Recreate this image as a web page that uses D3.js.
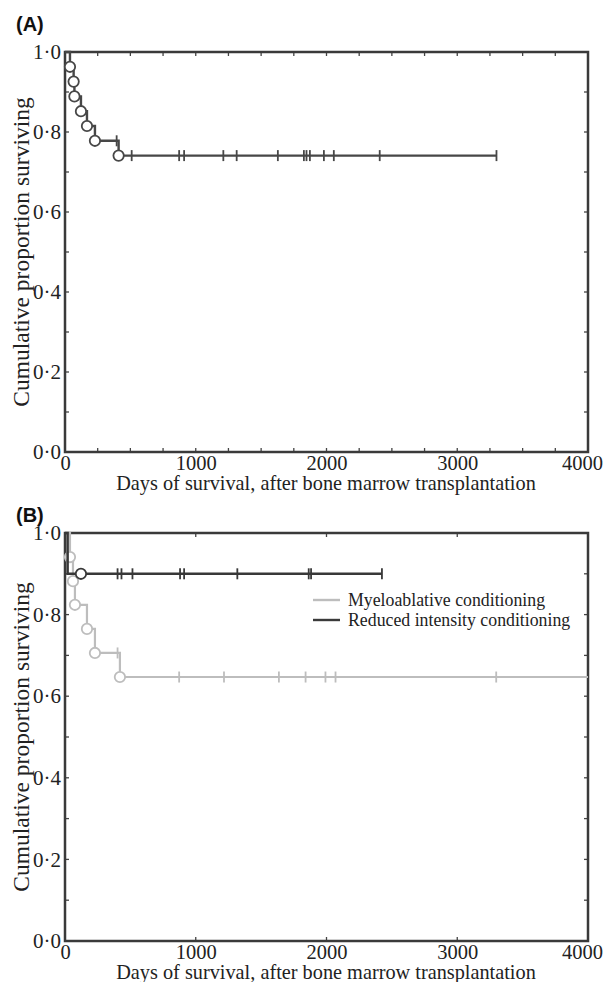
<!DOCTYPE html>
<html><head><meta charset="utf-8">
<script src="https://cdn.jsdelivr.net/npm/d3@7"></script>
<style>body{margin:0;background:#fff}</style>
</head><body>
<svg id="c" width="605" height="982"></svg>
<script>
// ---- data ----
const xTicks = [0, 1000, 2000, 3000, 4000];
const yTicks = [0, 0.2, 0.4, 0.6, 0.8, 1.0];
// Panel A: all patients
const aEventDays = [38, 66, 72, 122, 168, 229, 410];
const aEventSurv = [0.963, 0.926, 0.889, 0.852, 0.815, 0.778, 0.741];
const aCensorDays = [395, 510, 873, 911, 1211, 1313, 1628, 1827, 1847, 1873, 1980, 2056, 2407, 3300];
const aEndDay = 3300;
// Panel B: myeloablative conditioning
const maEventDays = [38, 61, 76, 168, 229, 420];
const maEventSurv = [0.941, 0.882, 0.824, 0.765, 0.706, 0.647];
const maCensorDays = [402, 873, 1216, 1636, 1840, 1992, 2069, 3298];
const maEndDay = 4000;
// Panel B: reduced intensity conditioning
const riEventDays = [20];
const riEventSurv = [0.9];
const riCircleDays = [122];
const riCensorDays = [402, 432, 516, 880, 911, 1318, 1864, 1882, 2424];
const riEndDay = 2424;
const legendLabels = ["Myeloablative conditioning", "Reduced intensity conditioning"];

const svg = d3.select("#c");
const serif = "'Liberation Serif','Times New Roman',serif";

function survAt(days, surv, t){ let s=1; days.forEach((d,i)=>{ if(d<=t) s=surv[i]; }); return s; }

function panel(top, bottom, label, labelY, minorX){
  const x = d3.scaleLinear().domain([0,4000]).range([65,588]);
  const y = d3.scaleLinear().domain([0,1]).range([bottom, top]);
  const g = svg.append("g");
  // tick labels
  const fmt = d => d3.format(".1f")(d).replace(".", "·");
  const ya = d3.axisLeft(y).tickValues(yTicks).tickFormat(fmt).tickSize(0).tickPadding(4);
  g.append("g").attr("transform","translate(65,0)").call(ya)
   .call(s=>{s.select(".domain").remove(); s.selectAll("text").attr("font-family",serif).attr("font-size",21).attr("fill","#222");});
  const xa = d3.axisBottom(x).tickValues(xTicks).tickFormat(d3.format("d")).tickSize(0).tickPadding(3);
  g.append("g").attr("transform",`translate(0,${bottom})`).call(xa)
   .call(s=>{s.select(".domain").remove();
     s.selectAll("text").attr("font-family",serif).attr("font-size",20.5).attr("fill","#222")
      .attr("dx", d => d===4000 ? -6 : 0);});
  // minor inside ticks
  const yMinor = d3.range(0, 11).map(i=>i/10);
  const tk = g.append("g").attr("stroke","#444").attr("stroke-width",1.3);
  yMinor.forEach(v=>{
    tk.append("line").attr("x1",65).attr("x2",69).attr("y1",y(v)).attr("y2",y(v));
    tk.append("line").attr("x1",588).attr("x2",584).attr("y1",y(v)).attr("y2",y(v));
  });
  minorX.forEach(v=>{
    tk.append("line").attr("x1",x(v)).attr("x2",x(v)).attr("y1",bottom).attr("y2",bottom-4);
    tk.append("line").attr("x1",x(v)).attr("x2",x(v)).attr("y1",top).attr("y2",top+4);
  });
  // frame
  g.append("rect").attr("x",65).attr("y",top).attr("width",523).attr("height",bottom-top)
   .attr("fill","none").attr("stroke","#3a3a3a").attr("stroke-width",2.5);
  // titles
  g.append("text").attr("x",326).attr("y",bottom+38).attr("text-anchor","middle")
   .attr("font-family",serif).attr("font-size",20.3).attr("fill","#222")
   .text("Days of survival, after bone marrow transplantation");
  g.append("text").attr("transform",`translate(29,${(top+bottom)/2}) rotate(-90)`).attr("text-anchor","middle")
   .attr("font-family",serif).attr("font-size",23.5).attr("fill","#222")
   .text("Cumulative proportion surviving");
  g.append("text").attr("x",16).attr("y",labelY).attr("font-family","'Liberation Sans',Arial,sans-serif")
   .attr("font-weight","bold").attr("font-size",20).attr("fill","#111").text(label);
  return {x,y,g};
}

function curve(p, days, surv, endDay, censors, circleDays, color, width){
  const pts = [[0,1]];
  days.forEach((d,i)=>pts.push([d, surv[i]]));
  pts.push([endDay, surv[surv.length-1]]);
  const line = d3.line().x(d=>p.x(d[0])).y(d=>p.y(d[1])).curve(d3.curveStepAfter);
  p.g.append("path").datum(pts).attr("d",line).attr("fill","none").attr("stroke",color).attr("stroke-width",width);
  p.g.selectAll(null).data(censors).enter().append("line")
    .attr("x1",d=>p.x(d)).attr("x2",d=>p.x(d))
    .attr("y1",d=>p.y(survAt(days,surv,d))-5.5).attr("y2",d=>p.y(survAt(days,surv,d))+5.5)
    .attr("stroke",color).attr("stroke-width",1.8);
  p.g.selectAll(null).data(circleDays).enter().append("circle")
    .attr("cx",d=>p.x(d)).attr("cy",d=>p.y(survAt(days,surv,d)))
    .attr("r",5.2).attr("fill","#fff").attr("stroke",color).attr("stroke-width",1.8);
}

const pA = panel(52, 452, "(A)", 31, d3.range(250, 4000, 250));
curve(pA, aEventDays, aEventSurv, aEndDay, aCensorDays, aEventDays, "#474747", 2.4);

const pB = panel(533, 941, "(B)", 522, [1000, 2000, 3000]);
curve(pB, maEventDays, maEventSurv, maEndDay, maCensorDays, maEventDays, "#bdbdbd", 2.2);
curve(pB, riEventDays, riEventSurv, riEndDay, riCensorDays, riCircleDays, "#383838", 2.5);

// legend
const lg = pB.g.append("g");
const lColors = ["#bdbdbd", "#3a3a3a"];
legendLabels.forEach((t,i)=>{
  lg.append("line").attr("x1",313).attr("x2",340).attr("y1",600+i*20).attr("y2",600+i*20)
    .attr("stroke",lColors[i]).attr("stroke-width",2.4);
  lg.append("text").attr("x",348).attr("y",606+i*20).attr("font-family",serif).attr("font-size",17.8)
    .attr("fill","#222").text(t);
});
</script>
</body></html>
